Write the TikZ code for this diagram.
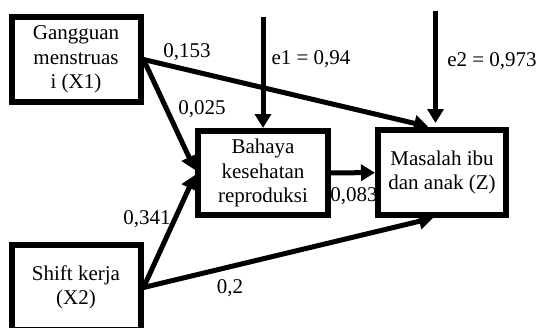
\documentclass[tikz,border=0pt]{standalone}
\usepackage{fontspec}
\setmainfont{Liberation Serif}
\usetikzlibrary{arrows.meta}

\begin{document}
\begin{tikzpicture}[x=1pt,y=-1pt,>={Triangle[length=14pt,width=16pt]},font=\fontsize{21}{24.5}\selectfont,
    var node/.style={draw,line width=6pt,align=center,inner sep=0pt,minimum width=129pt,minimum height=85pt},
    coef node/.style={inner sep=0pt}]
            \clip (0,0) rectangle (537,327);

            \node[var node] (X1) at (76,59.5) {Gangguan\\menstruas\\i (X1)};
            \node[var node] (X2) at (76,287.5) {Shift kerja\\(X2)};
            \node[var node,minimum width=130pt,minimum height=84pt] (Y) at (263,173) {Bahaya\\kesehatan\\reproduksi};
            \node[var node,minimum width=128pt] (Z) at (442,172.5) {Masalah ibu\\dan anak (Z)};

            \coordinate (e1) at (263,17);
            \coordinate (e2) at (435.5,11);

            \path[->,line width=5pt]
                (X1.east) edge ([yshift=3pt]Y.west)
                (X2.east) edge ([yshift=-2pt]Y.west)
                (X1.east) edge[shorten >=2pt] ([xshift=-12pt]Z.north)
                (X2.east) edge ([xshift=-9pt]Z.south)
                (Y) edge (Z)
                (e1) edge (Y)
                (e2) edge[shorten >=4pt] (e2 |- Z.north)
                ;

            \node[coef node] (p153) at (187,52) {0,153};
            \node[coef node] (p025) at (202,109) {0,025};
            \node[coef node] (p341) at (147,219) {0,341};
            \node[coef node] (p2) at (230,288) {0,2};
            \node[coef node] (p083) at (354,196) {0,083};
            \node[coef node] (r1) at (311,59) {e1 = 0,94};
            \node[coef node] (r2) at (492,61) {e2 = 0,973};
        \end{tikzpicture}
\end{document}
